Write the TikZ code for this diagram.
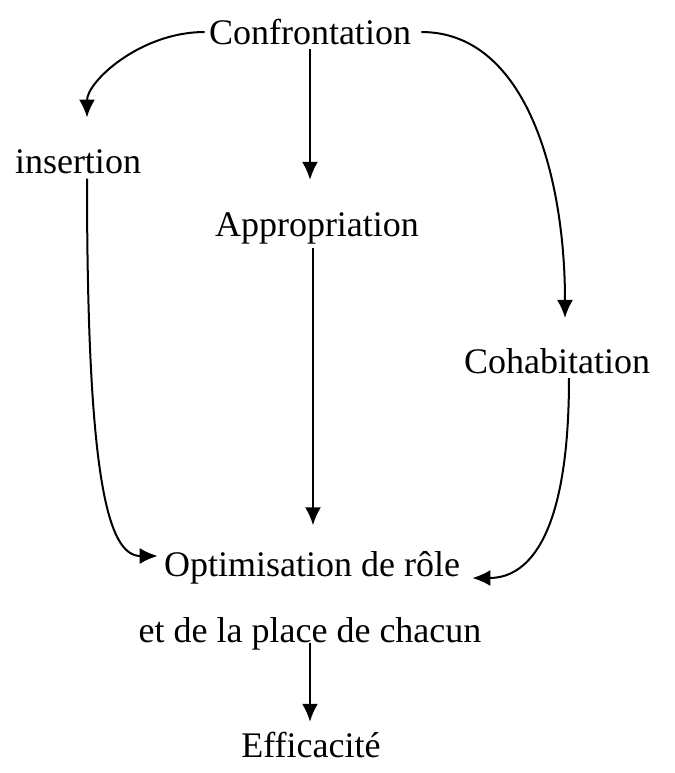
\documentclass[tikz,border=0pt]{standalone}
\usepackage{fontspec}
\setmainfont{Liberation Serif}
\usetikzlibrary{arrows.meta,positioning}

\begin{document}
\begin{tikzpicture}[
  x=0.5pt,y=-0.5pt,
  t/.style={font=\fontsize{18}{22}\selectfont,inner sep=2pt},
  arr/.style={-{Latex[length=9pt,width=8pt]},line width=1pt}
]
\useasboundingbox (0,0) rectangle (675,773);
\node[t] (conf) at (310,32)  {Confrontation};
\node[t] (ins)  at (78,162)  {insertion};
\node[t] (app)  at (317,228) {Appropriation};
\node[t] (coh)  at (557,361) {Cohabitation};
\node[t] (opt)  at (312,568) {Optimisation de rôle};
\node[t] (chac) at (310,634) {et de la place de chacun};
\node[t] (eff)  at (311,745) {Efficacité};
% straight ones
\draw[arr,shorten >=14pt] (conf) -- (conf |- app.north);
\draw[arr,shorten >=11pt] ([xshift=-2pt]app.south) -- ([xshift=-2pt]app.south |- opt.north);
\draw[arr,shorten >=3pt] (chac.base) -- (chac.base |- eff.north);
% curved ones
\draw[arr,shorten >=14pt] (conf.west) to[out=180,in=90] ([xshift=4.5pt]ins.north);
\draw[arr] ([xshift=4.5pt]ins.south) .. controls +(0,300) and +(-50,0) .. ([xshift=-1pt,yshift=6pt]opt.west);
\draw[arr,shorten >=13pt,shorten <=3pt] (conf.east) .. controls +(110,0) and +(0,-170) .. ([xshift=4pt]coh.north);
\draw[arr] ([xshift=6pt]coh.south) .. controls +(0,170) and +(50,0) .. ([xshift=4pt,yshift=-5pt]opt.east);
\end{tikzpicture}
\end{document}
